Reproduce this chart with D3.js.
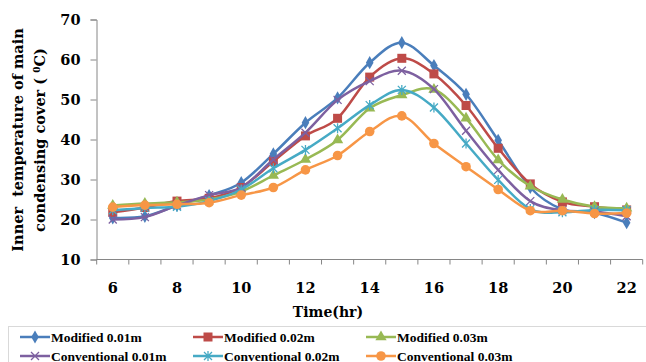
<!DOCTYPE html>
<html><head><meta charset="utf-8">
<script src="https://cdn.jsdelivr.net/npm/d3@7"></script>
<style>
body{margin:0;background:#fff;}
svg{display:block;}
text{font-family:"DejaVu Serif",serif;font-weight:bold;fill:#000;}
text.leg{font-family:"Liberation Serif","Times New Roman",serif;}
</style></head>
<body>
<svg id="c" width="646" height="362"></svg>
<script>
const hours = [6,7,8,9,10,11,12,13,14,15,16,17,18,19,20,21,22];
const xTickLabels = [6,8,10,12,14,16,18,20,22];
const yTicks = [10,20,30,40,50,60,70];
const seriesNames = ["Modified 0.01m","Modified 0.02m","Modified 0.03m","Conventional 0.01m","Conventional 0.02m","Conventional 0.03m"];
const modified001 = [20.4,20.8,23.5,26.0,29.2,36.4,44.2,50.4,59.2,64.2,58.5,51.3,39.8,28.0,22.5,21.7,19.2];
const modified002 = [21.8,23.0,24.6,25.3,28.0,34.5,40.9,45.3,55.6,60.3,56.4,48.5,37.8,28.9,24.4,23.2,22.4];
const modified003 = [23.5,24.0,24.3,25.0,27.0,31.0,35.0,39.9,47.8,51.1,52.5,45.3,34.9,28.3,25.0,23.2,22.8];
const conventional001 = [20.0,20.6,23.5,26.1,28.0,35.0,41.7,49.9,54.6,57.2,52.6,42.2,32.4,24.6,22.3,22.0,20.8];
const conventional002 = [22.3,22.9,23.2,24.6,27.5,32.8,37.4,42.8,48.6,52.4,48.0,39.0,29.9,22.6,21.8,22.4,22.3];
const conventional003 = [23.1,23.6,23.8,24.2,26.1,28.0,32.4,36.0,42.0,45.9,39.0,33.2,27.5,22.2,22.2,21.5,21.6];
const seriesValues = [modified001,modified002,modified003,conventional001,conventional002,conventional003];
const colors = ["#4A7EBB","#BE4B48","#98B954","#7D60A0","#46AAC5","#F79646"];
const markers = ["diamond","square","triangle","cross","star","circle"];

const svg = d3.select("#c");
const x = d3.scaleBand().domain(hours).range([96.7,642.7]);
const y = d3.scaleLinear().domain([10,70]).range([259.5,19.5]);
const cx = h => x(h) + x.bandwidth()/2;

// Y axis
const yAxis = svg.append("g").attr("transform","translate(96.5,0)")
  .call(d3.axisLeft(y).tickValues(yTicks).tickSize(6).tickPadding(10).tickFormat(d3.format("d")));
yAxis.select(".domain").attr("stroke","#868686");
yAxis.selectAll(".tick line").attr("stroke","#868686");
yAxis.selectAll("text").style("font-size","14.5px").attr("fill","#000");

// X axis (category ticks between categories)
const xg = svg.append("g").attr("transform","translate(0,259.5)");
xg.append("line").attr("x1",96.7).attr("x2",642.7).attr("stroke","#868686");
const bounds = hours.map(h=>x(h)).concat([x(hours[hours.length-1])+x.bandwidth()]);
xg.selectAll("line.t").data(bounds).join("line").attr("class","t")
  .attr("x1",d=>d).attr("x2",d=>d).attr("y1",0).attr("y2",5).attr("stroke","#868686");
xg.selectAll("text").data(xTickLabels).join("text")
  .attr("x",d=>cx(d)).attr("y",33).attr("text-anchor","middle").style("font-size","14.5px").text(d=>d);

// Titles
svg.append("text").attr("x",328).attr("y",317).attr("text-anchor","middle").style("font-size","14px").text("Time(hr)");
const yt = svg.append("text").attr("transform","translate(0,140) rotate(-90)").attr("text-anchor","middle").style("font-size","14.5px");
yt.append("tspan").attr("x",0).attr("y",23).attr("xml:space","preserve").text("Inner  temperature of main");
yt.append("tspan").attr("x",0).attr("y",45).text("condensing cover ( ").append("tspan").attr("dy",-5).style("font-size","9px").text("0");
yt.append("tspan").attr("dy",5).text("C)");

// marker drawer
function drawMarker(g, type, color){
  if(type==="diamond") g.append("path").attr("d",d3.symbol(d3.symbolDiamond,50)()).attr("fill",color);
  else if(type==="square") g.append("rect").attr("x",-4.5).attr("y",-4.5).attr("width",9).attr("height",9).attr("fill",color);
  else if(type==="triangle") g.append("path").attr("d",d3.symbol(d3.symbolTriangle,55)()).attr("fill",color);
  else if(type==="cross") g.append("path").attr("d","M-4,-4L4,4M-4,4L4,-4").attr("stroke",color).attr("stroke-width",1.3).attr("fill","none");
  else if(type==="star") g.append("path").attr("d","M-4,-4L4,4M-4,4L4,-4M0,-5V5").attr("stroke",color).attr("stroke-width",1.3).attr("fill","none");
  else if(type==="circle") g.append("circle").attr("r",4.8).attr("fill",color);
}

const line = d3.line().x((d,i)=>cx(hours[i])).y(d=>y(d)).curve(d3.curveCardinal.tension(0));
seriesValues.forEach((vals,si)=>{
  const g = svg.append("g");
  g.append("path").attr("d",line(vals)).attr("fill","none").attr("stroke",colors[si]).attr("stroke-width",2.5);
  vals.forEach((v,i)=>{
    const mg = g.append("g").attr("transform",`translate(${cx(hours[i])},${y(v)})`);
    drawMarker(mg, markers[si], colors[si]);
  });
});

// Legend
svg.append("rect").attr("x",8.5).attr("y",326.5).attr("width",650).attr("height",50).attr("fill","none").attr("stroke","#D9D9D9");
const colX = [20,193,366];
const rowY = [337,356];
seriesNames.forEach((n,i)=>{
  const lx = colX[i%3], ly = rowY[Math.floor(i/3)];
  const g = svg.append("g");
  g.append("line").attr("x1",lx).attr("x2",lx+30).attr("y1",ly).attr("y2",ly).attr("stroke",colors[i]).attr("stroke-width",2.5);
  drawMarker(g.append("g").attr("transform",`translate(${lx+15},${ly})`), markers[i], colors[i]);
  g.append("text").attr("class","leg").attr("x",lx+31).attr("y",ly+4.5).style("font-size","13.5px").text(n);
});
</script>
</body></html>
